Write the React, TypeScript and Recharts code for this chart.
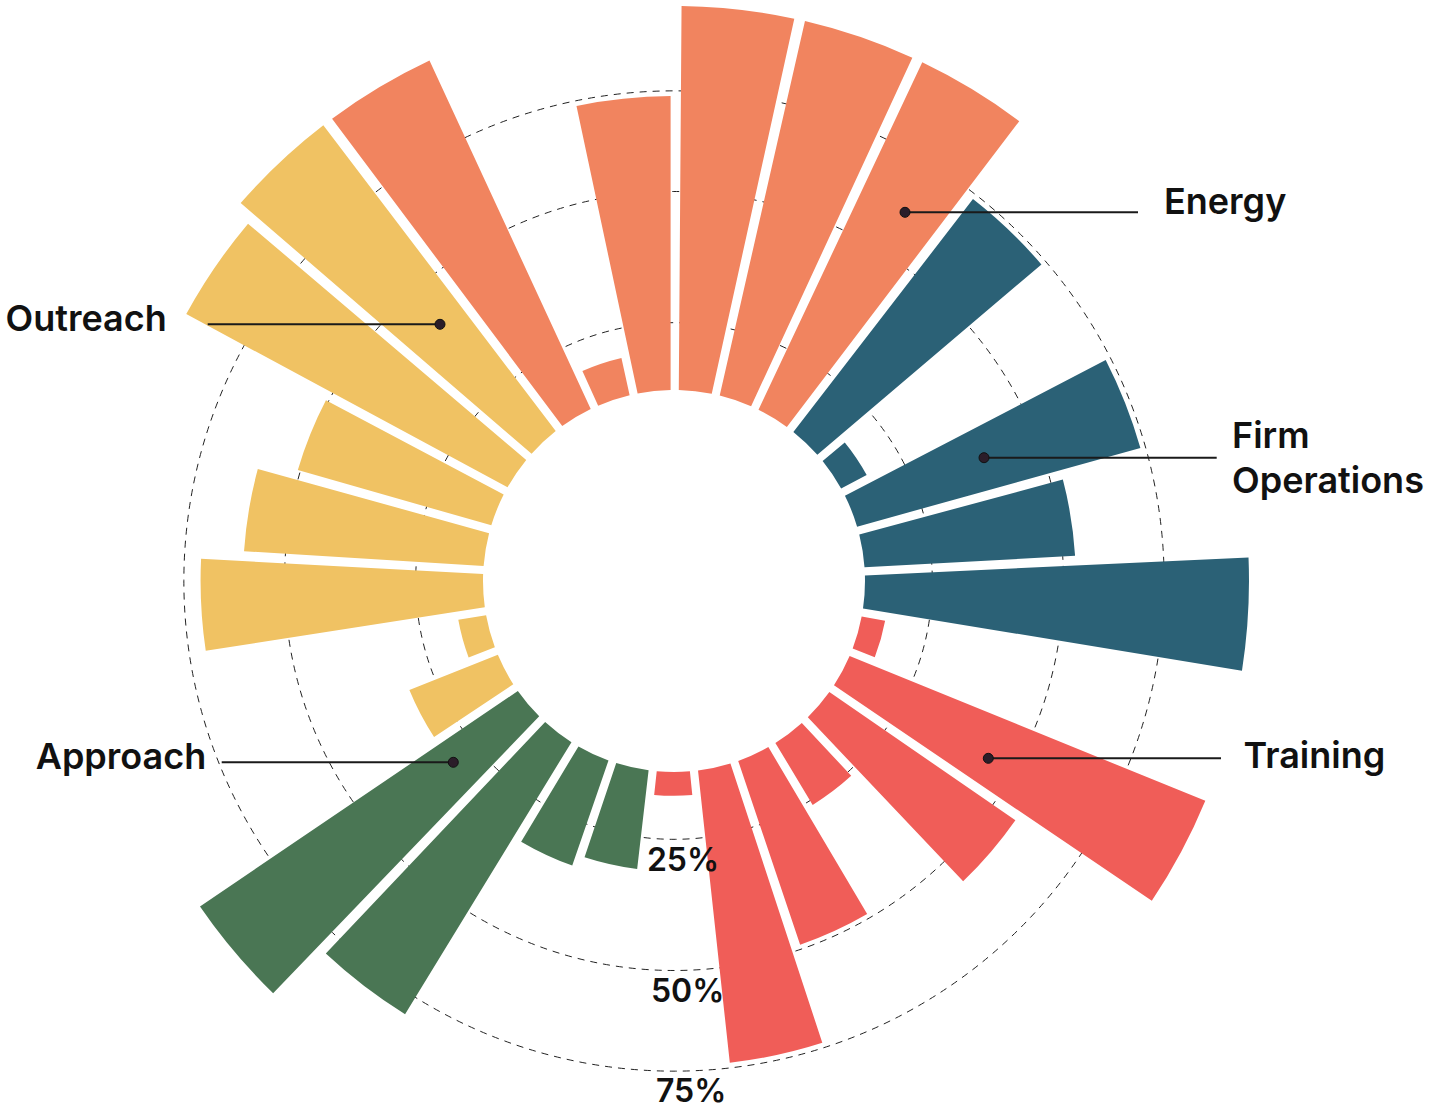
import React from 'react';
import {
  RadialBarChart,
  RadialBar,
  PolarAngleAxis,
  PolarRadiusAxis,
  PolarGrid,
  Cell,
} from 'recharts';

// Survey areas, in clockwise order around the ring
const groupNames = ['Energy', 'Firm Operations', 'Training', 'Approach', 'Outreach'];
const groupColors = ['#F1845F', '#2B6176', '#F05D58', '#4A7654', '#F0C263'];

// Share of respondents (%) for each item of an area, clockwise
const energyValues = [100, 20.6, 73.6, 100, 100, 100];
const firmOperationsValues = [73.6, 19.3, 73.6, 52.8, 100];
const trainingValues = [18.6, 100, 56.3, 25.8, 49.0, 73.6, 18.6];
const approachValues = [30.3, 32.4, 80.5, 100];
const outreachValues = [29.6, 19.2, 70.5, 59.7, 50.6, 94.1, 100];

// Reference rings
const gridTicks = [25, 50, 75];
const radiusDomain: [number, number] = [15.5, 100];

const groupValues = [
  energyValues,
  firmOperationsValues,
  trainingValues,
  approachValues,
  outreachValues,
];

const data = groupValues.flatMap((vals, g) =>
  vals.map((v, i) => ({ name: `${groupNames[g]} ${i + 1}`, group: g, value: v }))
);

// Layout
const W = 1437;
const H = 1110;
const CX = 674;
const CY = 581;
const INNER = 191;
const OUTER = 575;
const STEP = 360 / data.length;
// the first three Energy items sit to the left of 12 o'clock
// (each wedge is drawn one band past its category start)
const START_ANGLE = 90 + 2 * STEP;
const FONT = 'Inter, "Noto Sans", sans-serif';
const HALF_GAP = 3.4;

// Wedge with parallel-sided gaps between neighbours
function PaddedSector(props: any) {
  const { cx, cy, innerRadius, outerRadius, startAngle, endAngle, fill } = props;
  if (!(outerRadius > innerRadius)) return null;
  const RAD = Math.PI / 180;
  const hi = Math.max(startAngle, endAngle);
  const lo = Math.min(startAngle, endAngle);
  const pt = (r: number, a: number) => [cx + r * Math.cos(a * RAD), cy - r * Math.sin(a * RAD)];
  const pad = (r: number) => Math.asin(Math.min(1, HALF_GAP / r)) / RAD;
  const [x1, y1] = pt(outerRadius, hi - pad(outerRadius));
  const [x2, y2] = pt(outerRadius, lo + pad(outerRadius));
  const [x3, y3] = pt(innerRadius, lo + pad(innerRadius));
  const [x4, y4] = pt(innerRadius, hi - pad(innerRadius));
  const d = `M${x1},${y1} A${outerRadius},${outerRadius} 0 0 1 ${x2},${y2} L${x3},${y3} A${innerRadius},${innerRadius} 0 0 0 ${x4},${y4} Z`;
  return <path d={d} fill={fill} />;
}

function RadiusTick(props: any) {
  const { x, y, payload } = props;
  return (
    <text
      x={x}
      y={y + 20}
      textAnchor="middle"
      dominantBaseline="central"
      fontFamily={FONT}
      fontSize={32}
      fontWeight={600}
      fill="#111"
    >
      {`${payload.value}%`}
    </text>
  );
}

// Callouts: label text and leader line to a dot inside one wedge of the area
const callouts = [
  { lines: ['Energy'], textX: 1164, baselines: [214], lineY: 212.3, x1: 905, x2: 1138, dotX: 905 },
  { lines: ['Firm', 'Operations'], textX: 1232, baselines: [447.7, 492.7], lineY: 457.7, x1: 984, x2: 1216.7, dotX: 984 },
  { lines: ['Training'], textX: 1243.5, baselines: [768.3], lineY: 758.3, x1: 988.3, x2: 1221, dotX: 988.3 },
  { lines: ['Outreach'], textX: 5.5, baselines: [331], lineY: 324.3, x1: 207.7, x2: 440, dotX: 440 },
  { lines: ['Approach'], textX: 35.7, baselines: [769.3], lineY: 762.3, x1: 221.7, x2: 453.3, dotX: 453.3 },
];

export default function App() {
  return (
    <div style={{ position: 'relative', width: W, height: H, overflow: 'hidden', background: '#fff' }}>
      <style>{'body{margin:0;}'}</style>
      <RadialBarChart
        width={W}
        height={H}
        data={data}
        cx={CX}
        cy={CY}
        innerRadius={INNER}
        outerRadius={OUTER}
        startAngle={START_ANGLE}
        endAngle={START_ANGLE - 360}
        layout="centric"
        barCategoryGap={0}
        barGap={0}
        margin={{ top: 0, right: 0, bottom: 0, left: 0 }}
      >
        <PolarGrid
          gridType="circle"
          radialLines={false}
          stroke="#222"
          strokeWidth={1}
          strokeDasharray="7 6"
        />
        <PolarAngleAxis type="category" dataKey="name" tick={false} axisLine={false} tickLine={false} />
        <RadialBar dataKey="value" isAnimationActive={false} shape={PaddedSector}>
          {data.map((d, i) => (
            <Cell key={i} fill={groupColors[d.group]} />
          ))}
        </RadialBar>
        <PolarRadiusAxis
          type="number"
          scale="sqrt"
          domain={radiusDomain}
          ticks={gridTicks}
          angle={-88}
          axisLine={false}
          tickLine={false}
          tick={RadiusTick}
        />
      </RadialBarChart>
      <svg
        width={W}
        height={H}
        style={{ position: 'absolute', left: 0, top: 0, pointerEvents: 'none' }}
      >
        {callouts.map((c, i) => (
          <g key={i}>
            <line x1={c.x1} x2={c.x2} y1={c.lineY} y2={c.lineY} stroke="#1a1a1a" strokeWidth={2} />
            <circle cx={c.dotX} cy={c.lineY} r={5} fill="#2b1d29" stroke="#111" strokeWidth={1} />
            {c.lines.map((t, j) => (
              <text
                key={j}
                x={c.textX}
                y={c.baselines[j]}
                fontFamily={FONT}
                fontSize={36}
                fontWeight={600}
                fill="#111"
              >
                {t}
              </text>
            ))}
          </g>
        ))}
      </svg>
    </div>
  );
}
